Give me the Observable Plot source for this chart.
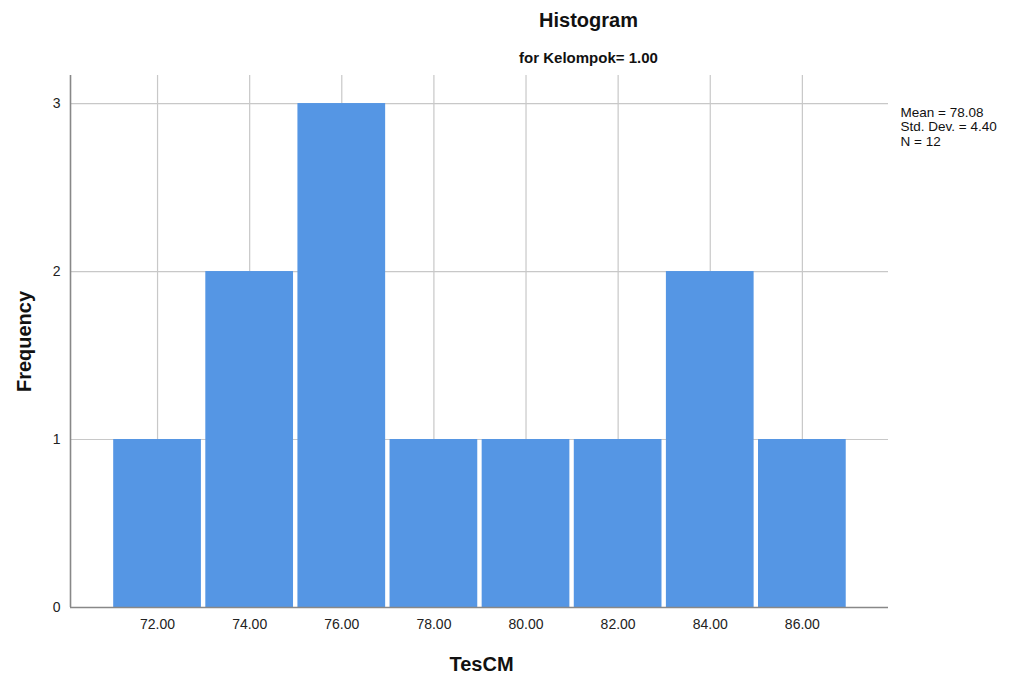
<!DOCTYPE html>
<html>
<head>
<meta charset="utf-8">
<script src="https://cdn.jsdelivr.net/npm/d3@7"></script>
<script src="https://cdn.jsdelivr.net/npm/@observablehq/plot@0.6"></script>
<style>
  html, body { margin: 0; padding: 0; background: #fff; }
  #chart svg { display: block; }
</style>
</head>
<body>
<div id="chart"></div>
<script>
const binStart = [71, 73, 75, 77, 79, 81, 83, 85];
const binEnd   = [73, 75, 77, 79, 81, 83, 85, 87];
const counts   = [1, 2, 3, 1, 1, 1, 2, 1];
const xTicks = [72, 74, 76, 78, 80, 82, 84, 86];
const yTicks = [0, 1, 2, 3];
const statsLines = ["Mean = 78.08", "Std. Dev. = 4.40", "N = 12"];
const title = "Histogram";
const subtitle = "for Kelompok= 1.00";
const xLabel = "TesCM";
const yLabel = "Frequency";

const bins = binStart.map((s, i) => ({x1: s, x2: binEnd[i], y: counts[i]}));
const font = "Liberation Sans, Arial, sans-serif";

const chart = Plot.plot({
  width: 1013,
  height: 679,
  marginLeft: 70,
  marginRight: 125,
  marginTop: 75,
  marginBottom: 72,
  style: {fontFamily: font, background: "#fff", overflow: "visible"},
  x: {domain: [70.11, 87.87], ticks: xTicks, label: null},
  y: {domain: [0, 3.167], ticks: yTicks, label: null},
  marks: [
    Plot.gridX(xTicks, {stroke: "#c8c8c8", strokeOpacity: 1, strokeWidth: 1.2}),
    Plot.gridY(yTicks.filter(d => d > 0), {stroke: "#c8c8c8", strokeOpacity: 1, strokeWidth: 1.2}),
    Plot.rectY(bins, {x1: "x1", x2: "x2", y: "y", fill: "#5596e4", insetLeft: 2.2, insetRight: 2.2}),
    Plot.axisX(xTicks, {tickSize: 0, tickPadding: 12, fontSize: 14, fill: "#222", tickFormat: d => d.toFixed(2)}),
    Plot.axisY(yTicks, {tickSize: 0, tickPadding: 10, fontSize: 14, fill: "#222", tickFormat: d => String(d)}),
    Plot.ruleX([70.11], {stroke: "#888", strokeWidth: 1.6}),
    Plot.ruleY([0], {stroke: "#888", strokeWidth: 1.6}),
    Plot.text([title], {frameAnchor: "top-left", dx: 518, dy: -63, text: d => d, fontSize: 20, fontWeight: "bold", fill: "#111", textAnchor: "middle"}),
    Plot.text([subtitle], {frameAnchor: "top-left", dx: 518, dy: -23, text: d => d, fontSize: 15, fontWeight: "bold", fill: "#111", textAnchor: "middle"}),
    Plot.text([xLabel], {frameAnchor: "bottom-left", dx: 411, dy: 63, text: d => d, fontSize: 20, fontWeight: "bold", fill: "#111", textAnchor: "middle"}),
    Plot.text([yLabel], {frameAnchor: "left", dx: -46, dy: 0, rotate: -90, text: d => d, fontSize: 20, fontWeight: "bold", fill: "#111", textAnchor: "middle"}),
    Plot.text([statsLines.join("\n")], {frameAnchor: "top-right", dx: 12, dy: 31, text: d => d, fontSize: 13.5, lineHeight: 1.08, fill: "#111", textAnchor: "start", lineAnchor: "top"})
  ]
});
document.getElementById("chart").appendChild(chart);
</script>
</body>
</html>
